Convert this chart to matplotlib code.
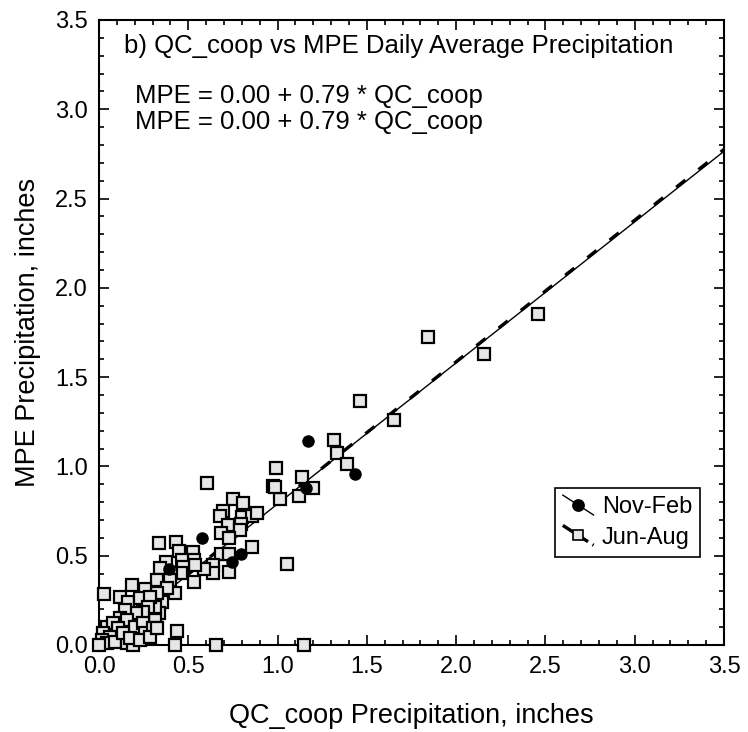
import numpy as np
import matplotlib
matplotlib.use("Agg")
import matplotlib.pyplot as plt
from matplotlib.lines import Line2D
from matplotlib.legend_handler import HandlerBase

plt.rcParams['font.family'] = ['Liberation Sans', 'DejaVu Sans']

# Nov-Feb (filled circles)
nf_x = [0.575, 1.168, 1.432, 0.795, 0.747, 1.159, 0.390]
nf_y = [0.597, 1.142, 0.956, 0.511, 0.463, 0.881, 0.425]

# Jun-Aug (open squares)
ja_x = [1.461, 1.316, 1.331, 1.387, 1.137, 1.196, 1.122, 1.013, 0.991, 0.976,
        0.985, 0.603, 1.051, 1.150, 0.653, 0.426, 0.439, 0.030, 0.748, 0.808,
        0.692, 0.677, 0.720, 0.799, 0.855, 0.883, 0.795, 0.789, 0.683, 0.728,
        0.855, 0.681, 0.726, 0.728, 0.640, 0.636, 0.588, 0.528, 0.532, 0.532,
        0.537, 0.431, 0.338, 0.448, 0.463, 0.472, 0.457, 0.375, 0.342, 0.403,
        0.398, 0.323, 0.426, 0.379, 0.351, 0.338, 0.323, 0.314, 0.314, 0.258,
        0.183, 0.118, 0.164, 0.230, 0.286, 0.276, 0.244, 0.207, 0.146, 0.118,
        0.155, 0.202, 0.248, 0.258, 0.304, 0.043, 0.080, 0.108, 0.024, 0.062,
        0.015, 0.043, 0.090, 0.155, 0.192, 0.000, 0.136, 0.174, 0.230, 0.286,
        0.323, 1.842, 2.157, 2.460, 1.652]
ja_y = [1.366, 1.148, 1.077, 1.012, 0.939, 0.877, 0.834, 0.817, 0.993, 0.890,
        0.885, 0.905, 0.454, 0.000, 0.000, 0.000, 0.078, 0.287, 0.817, 0.797,
        0.750, 0.722, 0.672, 0.718, 0.724, 0.737, 0.677, 0.644, 0.625, 0.597,
        0.551, 0.508, 0.508, 0.407, 0.448, 0.405, 0.426, 0.523, 0.476, 0.351,
        0.448, 0.579, 0.569, 0.526, 0.476, 0.439, 0.401, 0.467, 0.429, 0.401,
        0.364, 0.364, 0.289, 0.317, 0.243, 0.177, 0.289, 0.215, 0.140, 0.312,
        0.336, 0.271, 0.243, 0.261, 0.271, 0.215, 0.183, 0.177, 0.196, 0.149,
        0.140, 0.103, 0.121, 0.065, 0.093, 0.103, 0.121, 0.093, 0.065, 0.047,
        0.028, 0.009, 0.019, 0.009, 0.000, 0.000, 0.065, 0.037, 0.028, 0.047,
        0.093, 1.725, 1.628, 1.853, 1.260]

# regression fits from the equations
nf_a, nf_b = 0.00, 0.79
ja_a, ja_b = 0.00, 0.793

title = "b) QC_coop vs MPE Daily Average Precipitation"
eq1 = "MPE = 0.00 + 0.79 * QC_coop"
eq2 = "MPE = 0.00 + 0.79 * QC_coop"


class DiagHandler(HandlerBase):
    # legend handle drawn as a diagonal line with the marker in the middle
    def create_artists(self, legend, orig, xdescent, ydescent, width, height,
                       fontsize, trans):
        x0, x1 = -xdescent, -xdescent + width
        y0, y1 = -ydescent + height * 1.1, -ydescent - height * 0.1
        ln = Line2D([x0, x1], [y0, y1], color='black',
                    lw=orig.get_linewidth(), ls=orig.get_linestyle())
        ln.set_transform(trans)
        mk = Line2D([(x0 + x1) / 2], [(y0 + y1) / 2], ls='none',
                    marker=orig.get_marker(), ms=orig.get_markersize(),
                    mfc=orig.get_markerfacecolor(), mec='black', mew=1.2)
        mk.set_transform(trans)
        return [ln, mk]


fig = plt.figure(figsize=(7.48, 7.32), dpi=100)
ax = fig.add_axes([0.1324, 0.1189, 0.8356, 0.8538])

xs = np.array([0.0, 3.5])
ax.plot(xs, nf_a + nf_b * xs, color='black', lw=1.0, zorder=3)
ax.plot(xs, ja_a + ja_b * xs, color='black', lw=2.4, ls=(0, (3.5, 5)), zorder=3)

ax.plot(ja_x, ja_y, ls='none', marker='s', ms=8, mfc='#e6e6e6',
        mec='black', mew=1.6, zorder=4, clip_on=False)
ax.plot(nf_x, nf_y, ls='none', marker='o', ms=8, mfc='black',
        mec='black', zorder=5, clip_on=False)

ax.set_xlim(0, 3.5)
ax.set_ylim(0, 3.5)
ax.set_xticks(np.arange(0, 3.51, 0.5))
ax.set_yticks(np.arange(0, 3.51, 0.5))
ax.set_xticks(np.arange(0, 3.51, 0.1), minor=True)
ax.set_yticks(np.arange(0, 3.51, 0.1), minor=True)
ax.tick_params(which='both', direction='in', top=True, right=True, width=1.2)
ax.tick_params(which='major', length=7, labelsize=17, pad=8)
ax.tick_params(which='minor', length=3.5)
for s in ax.spines.values():
    s.set_linewidth(1.5)

ax.set_xlabel("QC_coop Precipitation, inches", fontsize=19.5, labelpad=18)
ax.set_ylabel("MPE Precipitation, inches", fontsize=19.5, labelpad=10)

ax.text(0.04, 0.958, title, transform=ax.transAxes, fontsize=18.5, va='center')
ax.text(0.058, 0.878, eq1, transform=ax.transAxes, fontsize=18.5, va='center')
ax.text(0.058, 0.836, eq2, transform=ax.transAxes, fontsize=18.5, va='center')

h1 = Line2D([], [], color='black', lw=1.0, marker='o', ms=8, mfc='black')
h2 = Line2D([], [], color='black', lw=2.4, ls=(0, (2, 2)), marker='s',
            ms=6.5, mfc='#e6e6e6')
leg = ax.legend([h1, h2], ['Nov-Feb', 'Jun-Aug'], loc='lower right',
                bbox_to_anchor=(0.962, 0.141), borderaxespad=0, fontsize=17,
                fancybox=False, framealpha=1, edgecolor='black',
                handlelength=1.3, handletextpad=0.35, borderpad=0.35,
                labelspacing=0.35, handler_map={Line2D: DiagHandler()})
leg.get_frame().set_linewidth(1.2)

fig.savefig("out.png", dpi=100)
